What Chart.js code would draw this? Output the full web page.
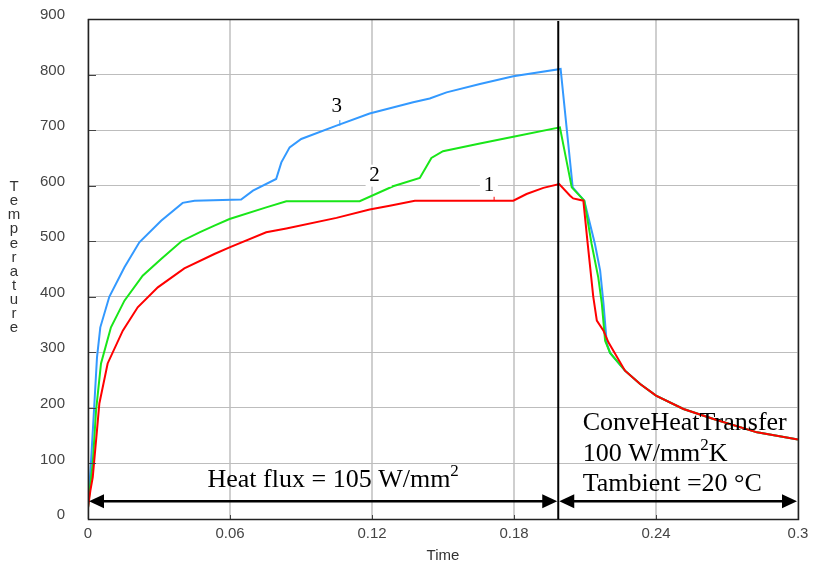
<!DOCTYPE html>
<html>
<head>
<meta charset="utf-8">
<title>Temperature vs Time</title>
<script src="https://cdn.jsdelivr.net/npm/chart.js@4"></script>
<style>
  html, body { margin: 0; padding: 0; background: #fff; }
  canvas { display: block; }
</style>
</head>
<body>
<canvas id="tempChart" width="821" height="566"></canvas>
<script>
// Curve 1 (red)
const time1 = [0, 0.001, 0.002, 0.0038, 0.0048, 0.0083, 0.0147, 0.021, 0.0295, 0.0407, 0.0534, 0.0598, 0.0753, 0.0838, 0.105, 0.119, 0.1275, 0.1381, 0.1797, 0.1853, 0.1924, 0.1991, 0.2037, 0.205, 0.2093, 0.211, 0.2135, 0.215, 0.2178, 0.2199, 0.2269, 0.2333, 0.24, 0.2516, 0.2643, 0.2827, 0.3];
const temp1 = [20, 51, 75, 160, 208, 280, 339, 381, 417, 451, 477, 489, 516, 523, 542, 557, 564, 573, 573, 585, 596, 603, 582, 577, 573, 501, 400, 357, 339, 318, 267, 243, 222, 198, 180, 156, 143];

// Curve 2 (green)
const time2 = [0, 0.001, 0.002, 0.0034, 0.0055, 0.0097, 0.0154, 0.0231, 0.0309, 0.0395, 0.0471, 0.0534, 0.0598, 0.0753, 0.0838, 0.1148, 0.1289, 0.1402, 0.1451, 0.15, 0.1656, 0.1797, 0.1994, 0.2044, 0.2097, 0.2128, 0.2156, 0.2171, 0.2185, 0.2206, 0.2269, 0.2333, 0.24, 0.2516, 0.2643, 0.2827, 0.3];
const temp2 = [20, 62, 100, 195, 280, 345, 393, 438, 468, 500, 516, 528, 540, 561, 572, 572, 599, 614, 650, 662, 676, 688, 705, 597, 573, 495, 435, 388, 321, 299, 267, 243, 222, 198, 180, 156, 143];

// Curve 3 (blue)
const time3 = [0, 0.0013, 0.0027, 0.0038, 0.0052, 0.009, 0.0154, 0.0217, 0.0309, 0.04, 0.045, 0.0647, 0.0697, 0.0795, 0.0817, 0.0852, 0.0901, 0.105, 0.119, 0.1374, 0.1444, 0.1515, 0.1656, 0.1797, 0.1997, 0.2048, 0.2097, 0.2142, 0.2164, 0.2178, 0.2192, 0.2206, 0.2269, 0.2333, 0.24, 0.2516, 0.2643, 0.2827, 0.3];
const temp3 = [20, 105, 208, 291, 345, 400, 453, 498, 537, 569, 573, 575, 591, 612, 642, 669, 684, 708, 730, 750, 757, 768, 783, 797, 810, 597, 573, 495, 447, 388, 316, 299, 267, 243, 222, 198, 180, 156, 143];

// Axis ticks
const timeTicks = [0, 0.06, 0.12, 0.18, 0.24, 0.3];
const timeTickLabels = ['0', '0.06', '0.12', '0.18', '0.24', '0.3'];
const tempTicks = [0, 100, 200, 300, 400, 500, 600, 700, 800, 900];

// Annotations (data units)
const heatFluxEnd = 0.1987;
const arrowTemp = 32;

document.addEventListener('DOMContentLoaded', () => {
    const ctx = document.getElementById('tempChart').getContext('2d');
    const serif = '"Liberation Serif", "Times New Roman", serif';
    const sans = '"Liberation Sans", Arial, sans-serif';

    const toPoints = (ts, vs) => ts.map((t, i) => ({ x: t, y: vs[i] }));

    function drawArrow(c, x1, x2, y) {
        const head = 15, half = 7;
        c.save();
        c.strokeStyle = '#000';
        c.fillStyle = '#000';
        c.lineWidth = 2.5;
        c.beginPath();
        c.moveTo(x1 + head - 2, y);
        c.lineTo(x2 - head + 2, y);
        c.stroke();
        c.beginPath();
        c.moveTo(x1, y);
        c.lineTo(x1 + head, y - half);
        c.lineTo(x1 + head, y + half);
        c.closePath();
        c.fill();
        c.beginPath();
        c.moveTo(x2, y);
        c.lineTo(x2 - head, y - half);
        c.lineTo(x2 - head, y + half);
        c.closePath();
        c.fill();
        c.restore();
    }

    // text with superscript parts
    function supText(c, parts, x, y) {
        let cx = x;
        parts.forEach(p => {
            c.font = p.sup ? '17px ' + serif : '26px ' + serif;
            c.fillText(p.t, cx, p.sup ? y - 11 : y);
            cx += c.measureText(p.t).width;
        });
    }

    const annotations = {
        id: 'annotations',
        afterDatasetsDraw(chart) {
            const c = chart.ctx;
            const xs = chart.scales.x, ys = chart.scales.y;
            const a = chart.chartArea;
            c.save();

            // small inward ticks
            c.strokeStyle = '#444';
            c.lineWidth = 1;
            tempTicks.forEach(v => {
                const y = Math.round(ys.getPixelForValue(v)) + 0.5;
                c.beginPath(); c.moveTo(a.left, y); c.lineTo(a.left + 8, y); c.stroke();
            });
            timeTicks.forEach(v => {
                const x = Math.round(xs.getPixelForValue(v)) + 0.5;
                c.beginPath(); c.moveTo(x, a.bottom); c.lineTo(x, a.bottom - 4); c.stroke();
            });

            // frame
            c.strokeStyle = '#222';
            c.lineWidth = 1.5;
            c.strokeRect(a.left + 0.5, a.top + 0.5, a.right - a.left, a.bottom - a.top);

            // end of heat flux line
            const xv = xs.getPixelForValue(heatFluxEnd);
            c.strokeStyle = '#000';
            c.lineWidth = 2;
            c.beginPath(); c.moveTo(xv, a.top + 2); c.lineTo(xv, a.bottom); c.stroke();

            // arrows
            const ya = ys.getPixelForValue(arrowTemp);
            drawArrow(c, xs.getPixelForValue(0) + 1, xv - 1, ya);
            drawArrow(c, xv + 1, xs.getPixelForValue(0.3) - 1, ya);

            // text blocks
            c.fillStyle = '#000';
            c.textAlign = 'left';
            c.textBaseline = 'alphabetic';
            supText(c, [{ t: 'Heat flux = 105 W/mm' }, { t: '2', sup: true }],
                xs.getPixelForValue(0.0505), ys.getPixelForValue(57));
            const tx = xs.getPixelForValue(0.209);
            supText(c, [{ t: 'ConveHeatTransfer' }], tx, ys.getPixelForValue(161));
            supText(c, [{ t: '100 W/mm' }, { t: '2', sup: true }, { t: 'K' }], tx, ys.getPixelForValue(104));
            supText(c, [{ t: 'Tambient =20 \u00B0C' }], tx, ys.getPixelForValue(50));

            // curve numbers
            c.font = '21px ' + serif;
            c.textAlign = 'center';
            c.textBaseline = 'middle';
            [['3', 0.1051, 742], ['2', 0.1211, 618], ['1', 0.1694, 600]].forEach(([s, t, v]) => {
                const px = xs.getPixelForValue(t), py = ys.getPixelForValue(v);
                c.fillStyle = '#fff';
                c.fillRect(px - 9, py - 11, s === '2' ? 26 : 18, 22);
                c.fillStyle = '#000';
                c.fillText(s, px, py);
            });
            // little pointers
            c.lineWidth = 1;
            c.strokeStyle = '#3399ff';
            c.beginPath(); c.moveTo(xs.getPixelForValue(0.1064), ys.getPixelForValue(718)); c.lineTo(xs.getPixelForValue(0.1064), ys.getPixelForValue(708)); c.stroke();
            c.strokeStyle = '#ff0000';
            c.beginPath(); c.moveTo(xs.getPixelForValue(0.1716), ys.getPixelForValue(580)); c.lineTo(xs.getPixelForValue(0.1716), ys.getPixelForValue(573)); c.stroke();

            // axis titles
            c.fillStyle = '#333';
            c.font = '15px ' + sans;
            c.fillText('Time', (a.left + a.right) / 2, 556);
            const word = 'Temperature';
            for (let i = 0; i < word.length; i++) {
                c.fillText(word[i], 14, 187 + i * 14.1);
            }
            c.restore();
        }
    };

    new Chart(ctx, {
        type: 'line',
        data: {
            datasets: [
                { label: '1', data: toPoints(time1, temp1), borderColor: '#ff0000', borderWidth: 2 },
                { label: '2', data: toPoints(time2, temp2), borderColor: '#19e619', borderWidth: 2 },
                { label: '3', data: toPoints(time3, temp3), borderColor: '#3399ff', borderWidth: 2 }
            ]
        },
        options: {
            responsive: false,
            animation: false,
            elements: { point: { radius: 0 }, line: { tension: 0 } },
            layout: { padding: { top: 19, right: 23, left: 0, bottom: 0 } },
            plugins: { legend: { display: false }, tooltip: { enabled: false } },
            scales: {
                x: {
                    type: 'linear',
                    min: 0,
                    max: 0.3,
                    afterBuildTicks: s => { s.ticks = timeTicks.map(v => ({ value: v })); },
                    afterFit: s => { s.height = 47; s.paddingLeft = 0; s.paddingRight = 0; },
                    grid: { color: '#cfcfcf', lineWidth: 2, drawTicks: false },
                    border: { display: false },
                    ticks: {
                        padding: 6,
                        color: '#444',
                        font: { family: sans, size: 15 },
                        maxRotation: 0,
                        autoSkip: false,
                        callback: (v, i) => timeTickLabels[i]
                    }
                },
                y: {
                    min: 0,
                    max: 900,
                    afterBuildTicks: s => { s.ticks = tempTicks.map(v => ({ value: v })); },
                    afterFit: s => { s.width = 88; s.paddingTop = 0; s.paddingBottom = 0; },
                    grid: { color: '#bdbdbd', lineWidth: 1, drawTicks: false },
                    border: { display: false },
                    ticks: {
                        padding: 23,
                        labelOffset: -4,
                        color: '#444',
                        font: { family: sans, size: 15 },
                        autoSkip: false
                    }
                }
            }
        },
        plugins: [annotations]
    });
});
</script>
</body>
</html>
